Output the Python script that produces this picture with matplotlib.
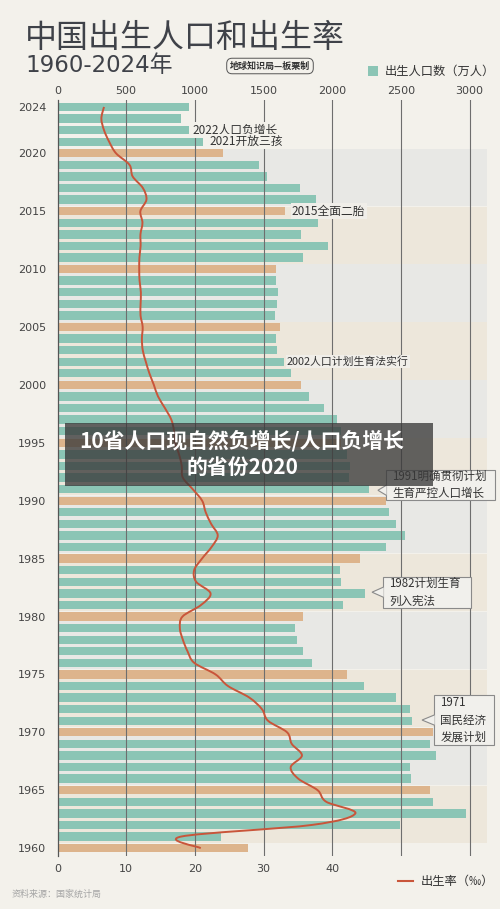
import matplotlib
matplotlib.use("Agg")
import matplotlib.pyplot as plt
from matplotlib.patches import Rectangle, Polygon, PathPatch
from matplotlib.path import Path
import numpy as np

plt.rcParams['font.family'] = ['Noto Sans CJK SC', 'DejaVu Sans']
DIGITS = ['DejaVu Sans', 'Noto Sans CJK SC']

# DATA
years = list(range(1960, 2025))
births = [1389, 1189, 2491, 2975, 2735, 2709, 2577, 2563, 2757, 2715,   # 1960-1969
          2736, 2578, 2566, 2463, 2235, 2109, 1853, 1786, 1745, 1727,   # 1970-1979
          1787, 2078, 2237, 2064, 2055, 2202, 2391, 2529, 2464, 2414,   # 1980-1989
          2391, 2265, 2125, 2132, 2110, 2063, 2067, 2038, 1942, 1834,   # 1990-1999
          1771, 1702, 1647, 1599, 1593, 1617, 1585, 1595, 1608, 1591,   # 2000-2009
          1588, 1785, 1973, 1776, 1897, 1655, 1883, 1765, 1523, 1465,   # 2010-2019
          1202, 1062, 956, 902, 954]                                    # 2020-2024
rates = [20.86, 18.02, 37.01, 43.37, 39.14, 37.88, 35.05, 33.96, 35.59, 34.11,
         33.43, 30.65, 29.77, 27.93, 24.82, 23.01, 19.91, 18.93, 18.25, 17.82,
         18.21, 20.91, 22.28, 20.19, 19.90, 21.04, 22.43, 23.33, 22.37, 21.58,
         21.06, 19.68, 18.24, 18.09, 17.70, 17.12, 16.98, 16.57, 15.64, 14.64,
         14.03, 13.38, 12.86, 12.41, 12.29, 12.40, 12.09, 12.10, 12.14, 11.95,
         11.90, 11.93, 12.10, 12.08, 12.37, 12.07, 12.95, 12.43, 10.94, 10.48,
         8.52, 7.52, 6.77, 6.39, 6.77]
year_ticks = [1960, 1965, 1970, 1975, 1980, 1985, 1990, 1995, 2000, 2005, 2010, 2015, 2020, 2024]
birth_ticks = [0, 500, 1000, 1500, 2000, 2500, 3000]
rate_ticks = [0, 10, 20, 30, 40]
# 5-year background bands: (first year, last year, kind)
bands = [(2016, 2020, 'g'), (2011, 2015, 'b'), (2006, 2010, 'g'), (2001, 2005, 'b'),
         (1996, 2000, 'g'), (1991, 1995, 'b'), (1986, 1990, 'g'), (1981, 1985, 'b'),
         (1976, 1980, 'g'), (1971, 1975, 'b'), (1966, 1970, 'g'), (1961, 1965, 'b')]

BG = '#F3F1EB'
TEAL = '#8BC5B5'
TAN = '#DDB48C'
RED = '#C9553A'
TXT = '#3F4249'

XMAX = 3127

fig = plt.figure(figsize=(5, 9.09), dpi=100)
fig.patch.set_facecolor(BG)
ax = fig.add_axes([0.115, 0.0583, 0.859, 0.8317])
ax.set_facecolor(BG)

for lo, hi, kind in bands:
    ax.axhspan(lo - 0.55, hi + 0.4, color='#E8E8E5' if kind == 'g' else '#EDE7DB', lw=0, zorder=0)

colors = [TAN if y % 5 == 0 else TEAL for y in years]
ax.barh(years, births, height=0.72, color=colors, zorder=2)
for g in birth_ticks[1:]:
    ax.axvline(g, color='#6E6E6E', lw=0.8, zorder=3)

ax.set_xlim(0, XMAX)
ax.set_ylim(1959.32, 2024.6)

# birth-rate line on bottom axis (10 per mille == 500 births)
ax2 = ax.twiny()
ax2.set_xlim(0, XMAX / 50)
ax2.xaxis.tick_bottom()
ax2.set_xticks(rate_ticks)
ax2.tick_params(length=0, labelsize=8, colors='#444444', pad=6)
for s in ax2.spines.values():
    s.set_visible(False)

ax.xaxis.tick_top()
ax.set_xticks(birth_ticks)
ax.set_yticks(year_ticks)
ax.tick_params(length=0, labelsize=8, colors='#444444')
ax.tick_params(axis='x', pad=3)
ax.tick_params(axis='y', pad=8)
for s in ['top', 'right', 'bottom']:
    ax.spines[s].set_visible(False)
ax.spines['left'].set_color('#555555')
ax.spines['left'].set_linewidth(0.9)
for lab in ax.get_xticklabels() + ax.get_yticklabels() + ax2.get_xticklabels():
    lab.set_family(DIGITS)

ry = years[::-1]
rx = rates[::-1]
pts = list(zip(rx, ry))
verts = [pts[0]]
codes = [Path.MOVETO]
for i in range(len(pts) - 1):
    p0 = np.array(pts[max(i - 1, 0)])
    p1 = np.array(pts[i])
    p2 = np.array(pts[i + 1])
    p3 = np.array(pts[min(i + 2, len(pts) - 1)])
    verts += [tuple(p1 + (p2 - p0) / 6), tuple(p2 - (p3 - p1) / 6), tuple(p2)]
    codes += [Path.CURVE4] * 3
ax2.add_patch(PathPatch(Path(verts, codes), fill=False, edgecolor=RED, lw=1.4, zorder=4))

# event notes
ax.text(986, 2022, '2022人口负增长', fontsize=8.5, color='#333333', va='center', zorder=5,
        bbox=dict(boxstyle='square,pad=0.1', fc=BG, ec='none'))
ax.text(1103, 2021, '2021开放三孩', fontsize=8.5, color='#333333', va='center', zorder=5,
        bbox=dict(boxstyle='square,pad=0.1', fc=BG, ec='none'))
ax.text(1707, 2015, '2015全面二胎', fontsize=8.5, color='#333333', va='center', zorder=5,
        bbox=dict(boxstyle='square,pad=0.1', fc='#F0EEE9', ec='none'))
ax.text(1671, 2002, '2002人口计划生育法实行', fontsize=7.8, color='#333333', va='center', zorder=5,
        bbox=dict(boxstyle='square,pad=0.1', fc='#F0EEE9', ec='none'))

callouts = [
    (2391, 3185, 1990.06, 1992.65, 2333, 1990.9, '1991明确贯彻计划\n生育严控人口增长'),
    (2370, 3010, 1980.74, 1983.41, 2290, 1982.1, '1982计划生育\n列入宪法'),
    (2741, 3178, 1968.9, 1973.22, 2654, 1971.06, '1971\n国民经济\n发展计划'),
]
for x0, x1, y0, y1, tx, ty, label in callouts:
    box = Rectangle((x0, y0), x1 - x0, y1 - y0, fc='#F1F0EC', ec='#8A8A8A', lw=0.8,
                    zorder=6, clip_on=False)
    ax.add_patch(box)
    ptr = Polygon([(x0 + 5, ty + 0.45), (tx, ty), (x0 + 5, ty - 0.45)], closed=False,
                  fc='#F1F0EC', ec='#8A8A8A', lw=0.8, zorder=7, clip_on=False)
    ax.add_patch(ptr)
    ax.text(x0 + 45, (y0 + y1) / 2, label, fontsize=8.3, color='#333333', va='center',
            ha='left', linespacing=1.45, zorder=8, clip_on=False)

# titles and legends
fig.text(25 / 500, 1 - 38 / 909, '中国出生人口和出生率', fontsize=23, color=TXT,
         va='center', ha='left', fontweight='medium')
fig.text(25 / 500, 1 - 65 / 909, '1960-2024年', fontsize=16.5, color=TXT,
         va='center', ha='left', family=DIGITS)
fig.text(270 / 500, 1 - 66 / 909, '地球知识局—板栗制', fontsize=6.5, color='#333333',
         va='center', ha='center', fontweight='bold',
         bbox=dict(boxstyle='round,pad=0.35,rounding_size=0.6', fc=BG, ec='#555555', lw=0.7))
fig.patches.append(Rectangle((368 / 500, 1 - 76 / 909), 10 / 500, 10 / 909, fc=TEAL, ec='none',
                             transform=fig.transFigure, figure=fig))
fig.text(385 / 500, 1 - 71 / 909, '出生人口数（万人）', fontsize=8.8, color='#333333',
         va='center', ha='left')
fig.lines.append(plt.Line2D([398 / 500, 413 / 500], [1 - 881 / 909] * 2, color=RED, lw=1.5,
                            transform=fig.transFigure, figure=fig))
fig.text(421 / 500, 1 - 881 / 909, '出生率（‰）', fontsize=8.8, color='#333333',
         va='center', ha='left')
fig.text(12 / 500, 1 - 894 / 909, '资料来源：国家统计局', fontsize=6.5, color='#A5A5A5',
         va='center', ha='left')

# dark overlay banner
fig.patches.append(Rectangle((65 / 500, 1 - 486 / 909), 368 / 500, 63 / 909, fc='#3A3A3A',
                             alpha=0.78, ec='none', transform=fig.transFigure, figure=fig,
                             zorder=10))
fig.text(242 / 500, 1 - 454 / 909, '10省人口现自然负增长/人口负增长\n的省份2020', fontsize=15,
         color='white', fontweight='bold', ha='center', va='center', linespacing=1.3,
         zorder=11)

fig.savefig('out.png', dpi=100, facecolor=BG)
